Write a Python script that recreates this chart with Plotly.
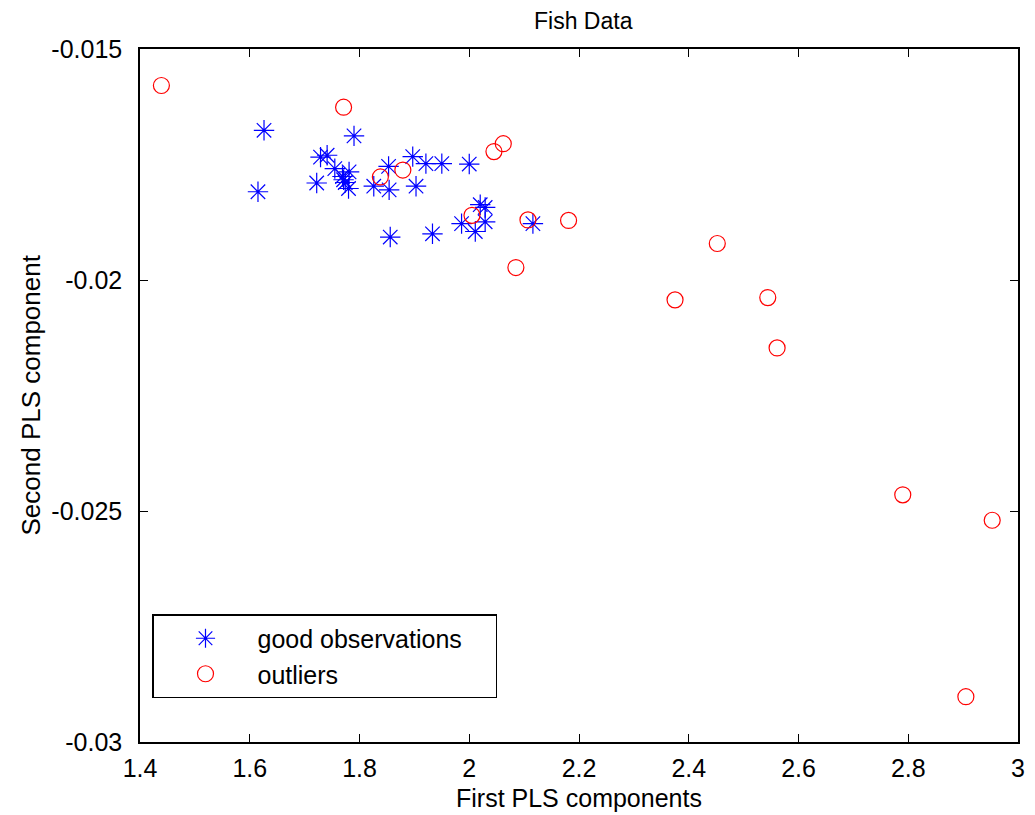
import plotly.graph_objects as go

# Good observations (blue asterisks)
good_x = [1.626, 1.790, 1.729, 1.741, 1.755, 1.781, 1.769, 1.771, 1.774, 1.780,
          1.722, 1.615, 1.826, 1.853, 1.854, 1.897, 1.921, 1.950, 2.000, 1.903,
          1.856, 1.933, 2.020, 2.029, 1.986, 2.011, 2.029, 2.116]
good_y = [-0.01676, -0.01688, -0.01734, -0.01730, -0.01759, -0.01766, -0.01776, -0.01783, -0.01789, -0.01802,
          -0.01790, -0.01809, -0.01797, -0.01754, -0.01805, -0.01733, -0.01748, -0.01748, -0.01749, -0.01797,
          -0.01907, -0.01900, -0.01837, -0.01843, -0.01878, -0.01895, -0.01874, -0.01878]

# Outliers (red circles)
out_x = [1.439, 1.771, 1.838, 1.879, 2.045, 2.062, 2.005, 2.107, 2.181, 2.085,
         2.452, 2.375, 2.544, 2.561, 2.790, 2.953, 2.905]
out_y = [-0.01579, -0.01626, -0.01777, -0.01762, -0.01722, -0.01705, -0.01860, -0.01870, -0.01871, -0.01973,
         -0.01921, -0.02043, -0.02038, -0.02147, -0.02465, -0.02520, -0.02902]

x_ticks = [1.4, 1.6, 1.8, 2.0, 2.2, 2.4, 2.6, 2.8, 3.0]
x_tick_labels = ["1.4", "1.6", "1.8", "2", "2.2", "2.4", "2.6", "2.8", "3"]
y_ticks = [-0.03, -0.025, -0.02, -0.015]
y_tick_labels = ["-0.03", "-0.025", "-0.02", "-0.015"]

FONT = "Liberation Sans, Arial, sans-serif"

fig = go.Figure()
fig.add_trace(go.Scatter(
    x=good_x, y=good_y, mode="markers", name="good observations\u00a0\u00a0\u00a0\u00a0",
    marker=dict(symbol="asterisk-open", size=17, color="#0000ff",
                line=dict(color="#0000ff", width=1.2)),
))
fig.add_trace(go.Scatter(
    x=out_x, y=out_y, mode="markers", name="outliers",
    marker=dict(symbol="circle-open", size=16, color="#ff0000",
                line=dict(color="#ff0000", width=1.2)),
))

axis_common = dict(
    showline=True, linecolor="black", linewidth=1.5, mirror="ticks",
    ticks="inside", ticklen=8, tickwidth=1, tickcolor="black",
    showgrid=False, zeroline=False,
    tickfont=dict(family=FONT, size=25, color="black"),
)

fig.update_xaxes(range=[1.4, 3.0], tickvals=x_ticks, ticktext=x_tick_labels,
                 ticklabelstandoff=3, **axis_common)
fig.update_yaxes(range=[-0.03, -0.015], tickvals=y_ticks, ticktext=y_tick_labels,
                 ticklabelstandoff=11, **axis_common)

fig.update_layout(
    width=1035, height=815,
    margin=dict(l=140, r=17, t=49, b=73, autoexpand=False),
    paper_bgcolor="white", plot_bgcolor="white",
    font=dict(family=FONT, color="black"),
    title=dict(text="Fish Data", x=0.5635, xanchor="center", y=1 - 21 / 815,
               yanchor="middle", yref="container",
               font=dict(family=FONT, size=23, color="black")),
    showlegend=True,
    legend=dict(x=12 / 878, y=(742 - 614) / 693, xanchor="left", yanchor="top",
                bgcolor="white", bordercolor="black", borderwidth=1.5,
                font=dict(family=FONT, size=25, color="black"),
                itemwidth=94, tracegroupgap=0),
    annotations=[
        dict(text="First PLS components", xref="paper", yref="paper", x=0.5, y=0,
             xanchor="center", yanchor="middle", yshift=-56, showarrow=False,
             font=dict(family=FONT, size=25, color="black")),
        dict(text="Second PLS component", xref="paper", yref="paper", x=0, y=0.5,
             xanchor="center", yanchor="middle", xshift=-110, textangle=-90,
             showarrow=False, font=dict(family=FONT, size=26, color="black")),
    ],
)

fig.write_html("out.html")
